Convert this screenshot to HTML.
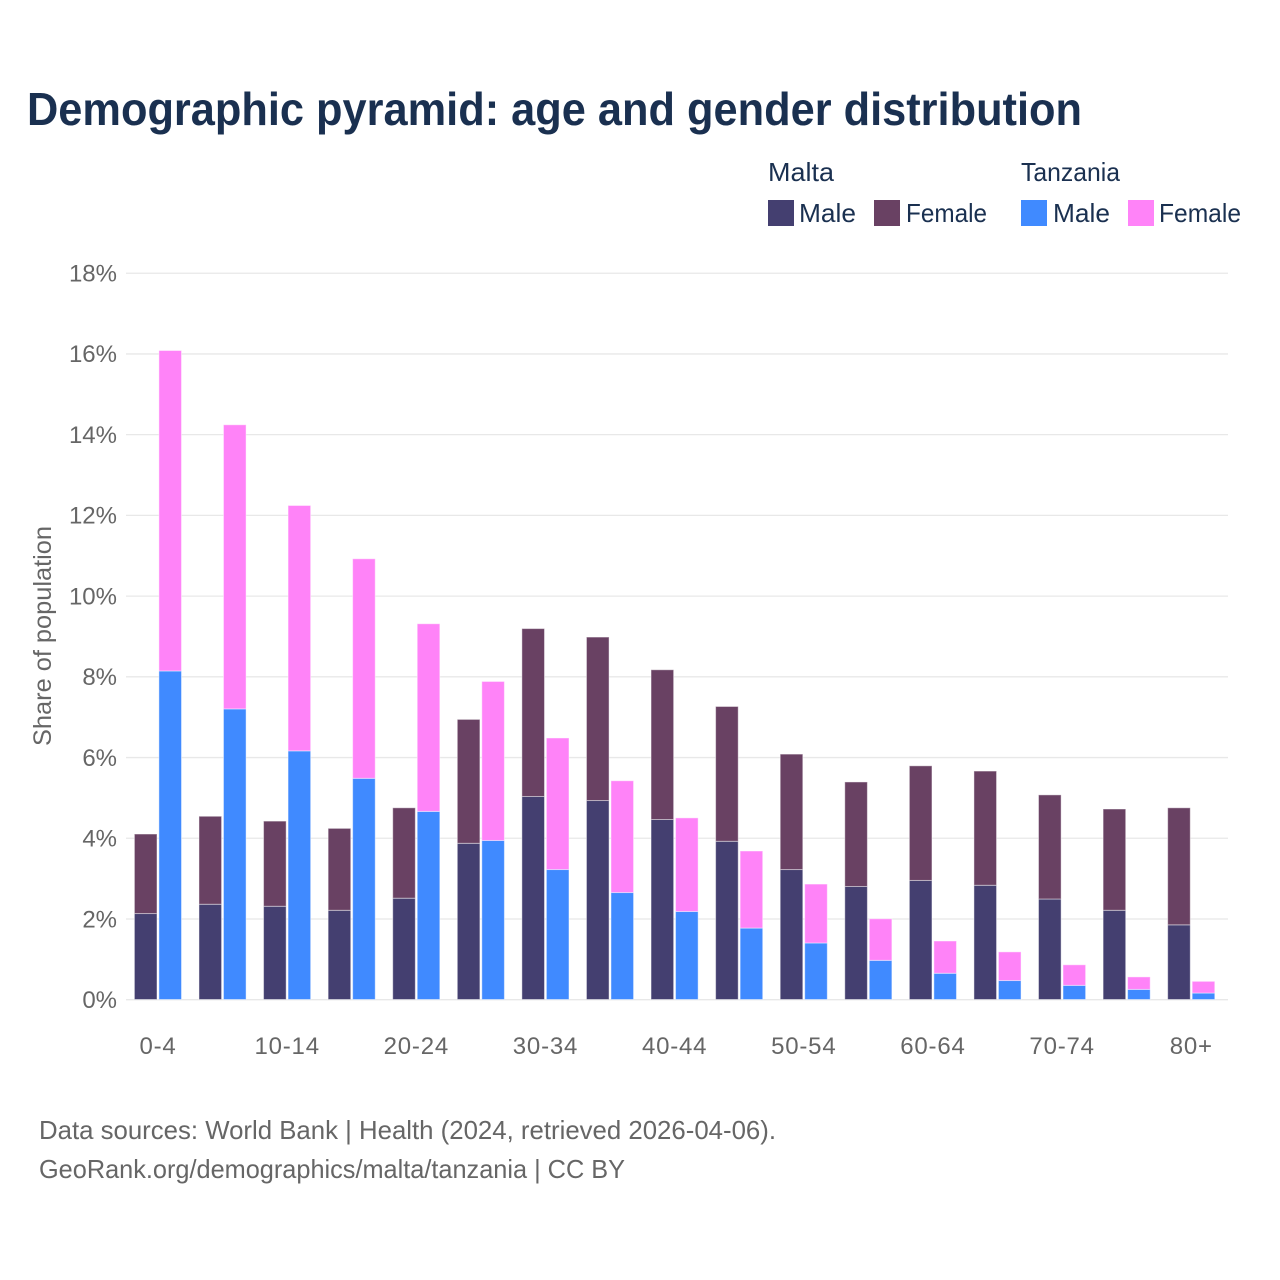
<!DOCTYPE html>
<html lang="en">
<head>
<meta charset="utf-8">
<title>Demographic pyramid: age and gender distribution</title>
<style>
html,body{margin:0;padding:0;background:#fff;width:1280px;height:1280px;overflow:hidden}
svg{display:block}
text{font-family:"Liberation Sans",sans-serif}
</style>
</head>
<body>
<svg id="chart" xmlns="http://www.w3.org/2000/svg" width="1280" height="1280" viewBox="0 0 1280 1280">
  <rect width="1280" height="1280" fill="#fff"/>
  <text x="27" y="125" font-size="46" font-weight="700" fill="#1a3050" textLength="1055" lengthAdjust="spacingAndGlyphs">Demographic pyramid: age and gender distribution</text>

  <g font-size="26" fill="#1a3050">
    <text x="768" y="181" textLength="66" lengthAdjust="spacingAndGlyphs">Malta</text>
    <text x="1021" y="181" textLength="99" lengthAdjust="spacingAndGlyphs">Tanzania</text>
    <rect x="768" y="200" width="26" height="26" fill="#443f70"/>
    <text x="799" y="222" textLength="57" lengthAdjust="spacingAndGlyphs">Male</text>
    <rect x="874" y="200" width="26" height="26" fill="#694163"/>
    <text x="906" y="222" textLength="81" lengthAdjust="spacingAndGlyphs">Female</text>
    <rect x="1021" y="200" width="26" height="26" fill="#408aff"/>
    <text x="1053" y="222" textLength="57" lengthAdjust="spacingAndGlyphs">Male</text>
    <rect x="1128" y="200" width="26" height="26" fill="#ff83f8"/>
    <text x="1159" y="222" textLength="82" lengthAdjust="spacingAndGlyphs">Female</text>
  </g>

  <g id="grid"></g>
  <g id="yticks"></g>
  <g id="bars"></g>
  <g id="xticks"></g>

  <text transform="translate(51,746) rotate(-90)" font-size="25" fill="#666" textLength="220" lengthAdjust="spacingAndGlyphs">Share of population</text>

  <g font-size="26" fill="#666">
    <text x="39" y="1139" textLength="737" lengthAdjust="spacingAndGlyphs">Data sources: World Bank | Health (2024, retrieved 2026-04-06).</text>
    <text x="39" y="1178" textLength="586" lengthAdjust="spacingAndGlyphs">GeoRank.org/demographics/malta/tanzania | CC BY</text>
  </g>
</svg>
<script>
const categories = ["0-4","5-9","10-14","15-19","20-24","25-29","30-34","35-39","40-44","45-49","50-54","55-59","60-64","65-69","70-74","75-79","80+"];
const maltaMale = [2.13,2.36,2.31,2.21,2.51,3.87,5.03,4.93,4.46,3.92,3.22,2.80,2.95,2.83,2.49,2.21,1.85];
const maltaFemale = [1.97,2.18,2.11,2.03,2.24,3.07,4.16,4.05,3.71,3.34,2.86,2.59,2.84,2.83,2.58,2.51,2.90];
const tanzaniaMale = [8.14,7.20,6.16,5.48,4.66,3.94,3.22,2.65,2.18,1.77,1.40,0.97,0.65,0.47,0.35,0.25,0.16];
const tanzaniaFemale = [7.94,7.04,6.08,5.44,4.65,3.94,3.26,2.77,2.32,1.91,1.46,1.03,0.80,0.71,0.51,0.31,0.29];
const yTicks = [0,2,4,6,8,10,12,14,16,18];

const NS = "http://www.w3.org/2000/svg";
const yScale = v => 999.5 - v * 40.36;
const bandCenter = i => 158 + i * 64.58;
const barWidth = 22.6;
const maltaOffset = -23.6;
const tanzaniaOffset = 0.9;

function make(tag, parent, attrs) {
  const el = document.createElementNS(NS, tag);
  for (const k in attrs) el.setAttribute(k, attrs[k]);
  parent.appendChild(el);
  return el;
}

const grid = document.getElementById("grid");
const yt = document.getElementById("yticks");
yTicks.forEach(t => {
  const line = make("line", grid, {x1: 126, x2: 1228, y1: yScale(t) + 0.2, y2: yScale(t) + 0.2, stroke: "#e8e8e8", "stroke-width": 1.3});
  
  
  const label = make("text", yt, {x: 117, y: yScale(t) + 8.5, "text-anchor": "end", "font-size": 24, fill: "#666"});
  
  
  label.textContent = t + "%";
});

const barsG = document.getElementById("bars");
function drawStack(i, offset, maleVal, femaleVal, maleColor, femaleColor, country) {
  const x = bandCenter(i) + offset;
  const male = make("rect", barsG, {x: x, y: yScale(maleVal), width: barWidth, height: yScale(0) - yScale(maleVal), fill: maleColor, stroke: "#fff", "stroke-opacity": 0.45, "stroke-width": 1});
  
  
  const female = make("rect", barsG, {x: x, y: yScale(maleVal + femaleVal), width: barWidth, height: yScale(maleVal) - yScale(maleVal + femaleVal), fill: femaleColor, stroke: "#fff", "stroke-opacity": 0.45, "stroke-width": 1});
  
  
}
categories.forEach((c, i) => {
  drawStack(i, maltaOffset, maltaMale[i], maltaFemale[i], "#443f70", "#694163", "malta");
  drawStack(i, tanzaniaOffset, tanzaniaMale[i], tanzaniaFemale[i], "#408aff", "#ff83f8", "tanzania");
});

const xt = document.getElementById("xticks");
categories.forEach((c, i) => {
  if (i % 2 !== 0) return;
  const label = make("text", xt, {x: bandCenter(i), y: 1054, "text-anchor": "middle", "font-size": 24, "letter-spacing": 0.8, fill: "#666"});
  
  
  label.textContent = c;
});
</script>
</body>
</html>
